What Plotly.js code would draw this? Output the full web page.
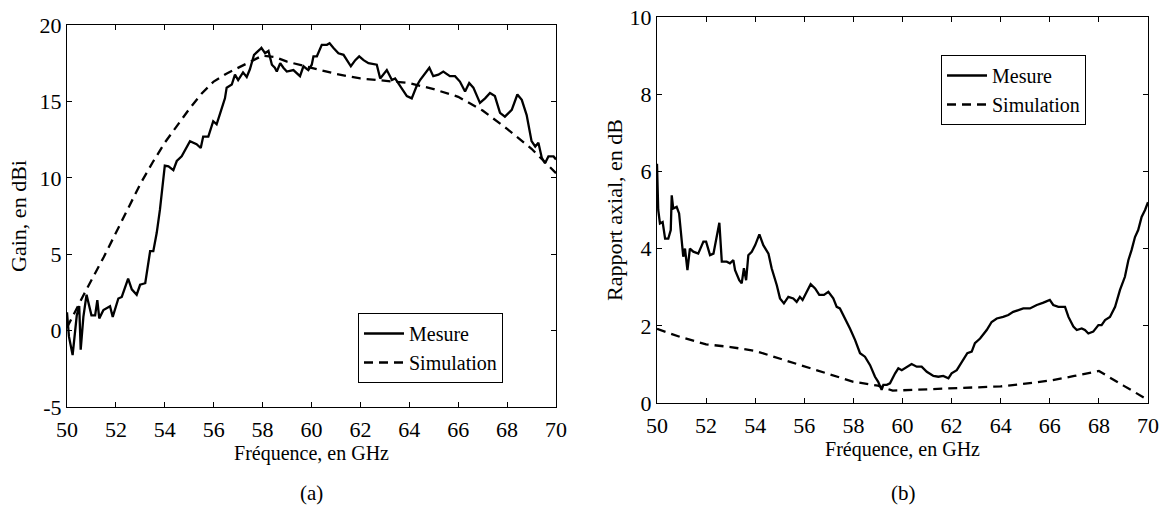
<!DOCTYPE html>
<html>
<head>
<meta charset="utf-8">
<script src="https://cdn.plot.ly/plotly-3.0.1.min.js"></script>
<style>html,body{margin:0;padding:0;background:#fff;}#chart{width:1168px;height:510px;}</style>
</head>
<body>
<div id="chart"></div>
<script>
// ---- (a) Gain ----
const gainMesFreq = [50,50.08,50.23,50.4,50.5,50.56,50.67,50.8,51.0,51.15,51.24,51.32,51.49,51.76,51.87,52.1,52.24,52.5,52.65,52.85,52.99,53.2,53.4,53.53,53.67,53.8,54.0,54.15,54.35,54.49,54.69,55.03,55.3,55.47,55.57,55.78,55.98,56.12,56.26,56.46,56.53,56.74,56.87,57.0,57.2,57.35,57.48,57.65,57.89,57.95,58.1,58.24,58.38,58.5,58.58,58.72,58.85,58.99,59.26,59.53,59.67,59.87,60.01,60.08,60.22,60.42,60.63,60.74,60.9,61.1,61.31,61.45,61.61,61.79,61.95,62.13,62.33,62.67,62.81,63.08,63.29,63.42,63.63,63.9,64.1,64.3,64.44,64.64,64.82,64.98,65.19,65.39,65.66,65.87,66.07,66.28,66.45,66.62,66.89,67.1,67.3,67.5,67.71,67.91,68.19,68.42,68.6,68.8,69.0,69.15,69.28,69.42,69.55,69.69,69.9,70];
const gainMes = [1.2,-0.4,-1.6,1.0,1.6,-1.25,0.9,2.35,1.0,1.0,2.0,0.8,1.35,1.6,0.9,2.1,2.2,3.4,2.7,2.35,3.0,3.1,5.2,5.2,6.4,7.9,10.8,10.75,10.5,11.1,11.4,12.4,12.2,11.95,12.7,12.7,13.7,13.5,14.2,15.2,15.9,16.1,16.75,16.4,16.9,16.6,17.1,18.05,18.4,18.5,18.15,18.3,17.4,17.2,16.95,17.5,17.2,16.95,17.05,16.65,17.3,17.05,17.4,17.95,17.95,18.7,18.7,18.8,18.5,18.15,18.05,17.7,17.3,17.7,17.95,17.7,17.5,17.4,16.5,17.05,16.4,16.5,16.0,15.35,15.2,16.0,16.4,16.85,17.2,16.65,16.75,16.95,16.65,16.65,16.3,15.65,16.2,15.9,14.9,15.2,15.55,15.35,14.25,14.0,14.45,15.45,15.1,14.1,12.4,12.05,12.3,11.3,10.95,11.4,11.4,11.2];
const gainSimFreq = [50,50.7,51.5,52,52.5,53,53.5,54,54.5,55,55.5,56,56.5,57,57.5,58,58.5,59,60,61,62,63,64,65,66,67,68,69,70];
const gainSim = [0.2,2.4,4.8,6.4,8.0,9.6,11.0,12.3,13.4,14.5,15.5,16.3,16.8,17.2,17.6,18.0,17.9,17.6,17.2,16.8,16.5,16.35,16.2,15.8,15.3,14.4,13.2,11.9,10.3];

// ---- (b) Rapport axial ----
const arMesFreq = [50,50.05,50.12,50.23,50.33,50.46,50.56,50.6,50.66,50.8,50.9,51.0,51.07,51.14,51.24,51.34,51.48,51.68,51.89,52.0,52.16,52.3,52.54,52.64,52.84,52.97,53.11,53.18,53.35,53.45,53.54,53.63,53.72,53.86,54.0,54.17,54.27,54.33,54.54,54.67,54.88,55.01,55.17,55.35,55.55,55.69,55.82,55.93,56.1,56.26,56.44,56.61,56.8,56.98,57.18,57.32,57.45,57.66,57.86,58.07,58.27,58.47,58.68,58.88,59.01,59.15,59.22,59.36,59.49,59.7,59.83,59.97,60.17,60.37,60.58,60.78,60.99,61.26,61.46,61.66,61.87,62.0,62.21,62.41,62.64,62.82,62.95,63.16,63.43,63.63,63.84,64.1,64.31,64.51,64.79,64.92,65.19,65.47,65.74,66.0,66.14,66.35,66.62,66.76,66.96,67.1,67.3,67.43,67.57,67.77,67.98,68.11,68.25,68.45,68.66,68.86,69.06,69.2,69.33,69.47,69.6,69.74,69.88,70];
const arMes = [6.2,5.0,4.65,4.69,4.26,4.26,4.48,5.38,5.04,5.08,4.91,4.13,3.79,4.0,3.44,4.0,3.92,3.87,4.18,4.18,3.83,3.87,4.67,3.66,3.66,3.62,3.7,3.44,3.18,3.1,3.49,3.18,3.83,3.92,4.09,4.37,4.18,4.09,3.87,3.49,3.05,2.71,2.58,2.75,2.71,2.62,2.75,2.67,2.88,3.08,2.97,2.8,2.8,2.88,2.71,2.49,2.45,2.19,1.93,1.63,1.29,1.2,0.98,0.68,0.55,0.34,0.47,0.47,0.51,0.77,0.9,0.85,0.94,1.01,0.94,0.94,0.81,0.7,0.68,0.7,0.64,0.77,0.85,1.07,1.29,1.33,1.55,1.67,1.89,2.1,2.19,2.23,2.28,2.36,2.41,2.45,2.45,2.54,2.6,2.67,2.54,2.49,2.49,2.23,1.98,1.89,1.93,1.89,1.8,1.85,2.02,2.02,2.15,2.23,2.49,2.93,3.27,3.7,3.96,4.3,4.48,4.82,5.0,5.2];
const arSimFreq = [50,51,52,53,54,55,56,57,58,59,59.6,60,62,64,65,66,67,68,69,70];
const arSim = [1.92,1.7,1.52,1.45,1.35,1.15,0.95,0.75,0.55,0.45,0.32,0.33,0.38,0.43,0.5,0.58,0.7,0.83,0.45,0.08];

const xTicks = [50,52,54,56,58,60,62,64,66,68,70];
const gainTicks = [-5,0,5,10,15,20];
const arTicks = [0,2,4,6,8,10];
const seriesNames = ['Mesure','Simulation'];
const panelLabels = ['(a)','(b)'];
const xTitle = 'Fréquence, en GHz';
const yTitleA = 'Gain, en dBi';
const yTitleB = 'Rapport axial, en dB';

const FONT = '"Liberation Serif", serif';
const solid = {color:'#000', width:2.3};
const dashed = {color:'#000', width:2.3, dash:'9px,6px'};

const traces = [
  {x:gainMesFreq, y:gainMes, name:seriesNames[0], mode:'lines', line:solid, xaxis:'x', yaxis:'y', legend:'legend'},
  {x:gainSimFreq, y:gainSim, name:seriesNames[1], mode:'lines', line:dashed, xaxis:'x', yaxis:'y', legend:'legend'},
  {x:arMesFreq, y:arMes, name:seriesNames[0], mode:'lines', line:solid, xaxis:'x2', yaxis:'y2', legend:'legend2'},
  {x:arSimFreq, y:arSim, name:seriesNames[1], mode:'lines', line:dashed, xaxis:'x2', yaxis:'y2', legend:'legend2'}
];

function xax(domain, anchor){
  return {domain:domain, anchor:anchor, range:[50,70], tickvals:xTicks, ticktext:xTicks.map(String),
    ticks:'inside', ticklen:5, tickcolor:'#000', showline:true, linecolor:'#000', linewidth:1,
    mirror:'ticks', showgrid:false, zeroline:false, tickfont:{family:FONT,size:22,color:'#000'},
    ticklabelstandoff:3,
    title:{text:xTitle, font:{family:FONT,size:20,color:'#000'}, standoff:1}};
}
function yax(domain, anchor, range, vals, title, standoff){
  return {domain:domain, anchor:anchor, range:range, tickvals:vals, ticktext:vals.map(String),
    ticks:'inside', ticklen:5, tickcolor:'#000', showline:true, linecolor:'#000', linewidth:1,
    mirror:'ticks', showgrid:false, zeroline:false, tickfont:{family:FONT,size:22,color:'#000'},
    title:{text:title, font:{family:FONT,size:22,color:'#000'}, standoff:standoff}};
}

const legendStyle = {bgcolor:'#fff', bordercolor:'#000', borderwidth:1, font:{family:FONT,size:20,color:'#000'},
  xanchor:'left', yanchor:'top', itemwidth:40, tracegroupgap:0};

const layout = {
  width:1168, height:510, margin:{l:0,r:0,t:0,b:0},
  paper_bgcolor:'#fff', plot_bgcolor:'#fff', showlegend:true,
  font:{family:FONT, color:'#000'},
  xaxis: xax([67/1168, 556/1168], 'y'),
  yaxis: yax([103/510, 485/510], 'x', [-5,20], gainTicks, yTitleA, 6),
  xaxis2: xax([657/1168, 1148/1168], 'y2'),
  yaxis2: yax([107/510, 493/510], 'x2', [0,10], arTicks, yTitleB, 0),
  legend: Object.assign({x:358/1168, y:(510-313)/510}, legendStyle),
  legend2: Object.assign({x:941/1168, y:(510-55)/510}, legendStyle),
  annotations:[
    {text:panelLabels[0], x:311/1168, y:(510-493)/510, xref:'paper', yref:'paper', xanchor:'center', yanchor:'middle', showarrow:false, font:{family:FONT,size:21,color:'#000'}},
    {text:panelLabels[1], x:903/1168, y:(510-493)/510, xref:'paper', yref:'paper', xanchor:'center', yanchor:'middle', showarrow:false, font:{family:FONT,size:21,color:'#000'}}
  ]
};

Plotly.newPlot('chart', traces, layout, {displayModeBar:false, staticPlot:true});
</script>
</body>
</html>
